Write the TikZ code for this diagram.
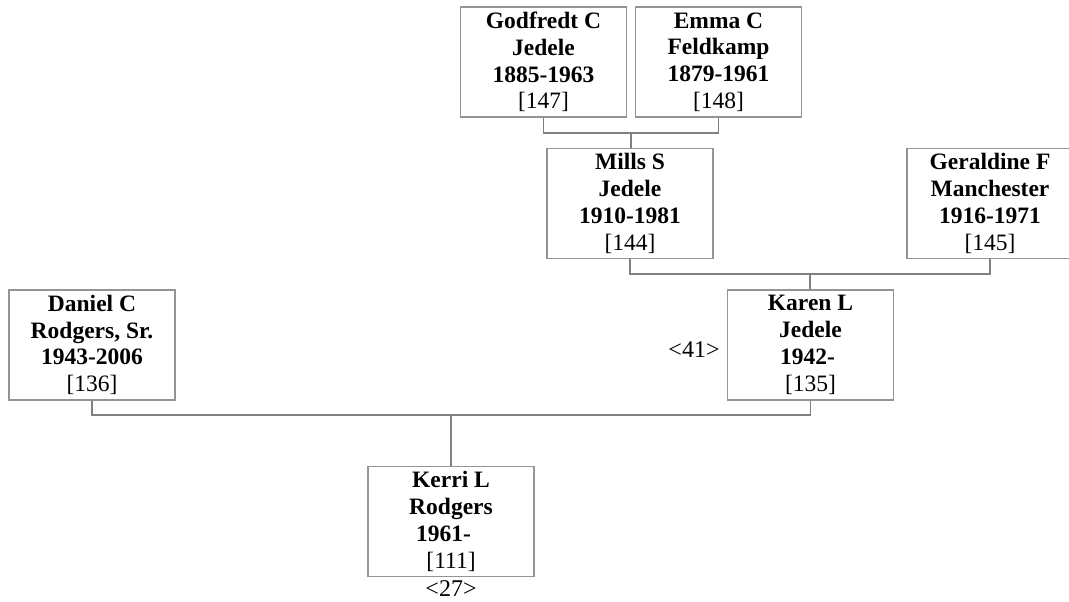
\documentclass[tikz,border=0pt]{standalone}
\usepackage{fontspec}
\setmainfont{Liberation Serif}
\begin{document}
\begin{tikzpicture}[x=1pt,y=-1pt,
  pbox/.style={draw=black!42, line width=1.2pt, rectangle, minimum width=166pt, minimum height=110pt,
    inner sep=0pt, align=center, font=\fontsize{23.5}{26.8}\selectfont},
  link/.style={draw=black!50, line width=1.2pt},
  note/.style={inner sep=0pt, font=\fontsize{24}{26.8}\selectfont}]
\useasboundingbox (0,0) rectangle (1069,602);
% generation 1
\node[pbox] (godfredt) at (543.5,62) {\textbf{Godfredt C}\\\textbf{Jedele}\\\textbf{1885-1963}\\{[147]}};
\node[pbox] (emma) at (718.5,62) {\textbf{Emma C}\\\textbf{Feldkamp}\\\textbf{1879-1961}\\{[148]}};
% generation 2
\node[pbox] (mills) at (630,203.5) {\textbf{Mills S}\\\textbf{Jedele}\\\textbf{1910-1981}\\{[144]}};
\node[pbox] (geraldine) at (990,203.5) {\textbf{Geraldine F}\\\textbf{Manchester}\\\textbf{1916-1971}\\{[145]}};
% generation 3
\node[pbox] (daniel) at (92,345) {\textbf{Daniel C}\\\textbf{Rodgers, Sr.}\\\textbf{1943-2006}\\{[136]}};
\node[pbox] (karen) at (810.5,345) {\textbf{Karen L}\\\textbf{Jedele}\\\textbf{1942-}\hbox to 6pt{}\\{[135]}};
\node[note] (n41) at (694,350) {<41>};
% generation 4
\node[pbox] (kerri) at (451,521.5) {\textbf{Kerri L}\\\textbf{Rodgers}\\\textbf{1961-}\hbox to 15pt{}\\{[111]}};
\node[note] (n27) at (451,589) {<27>};
% connectors
\coordinate (c1) at (631,133);
\coordinate (c2) at (810,274);
\coordinate (c3) at (451,415);
\draw[link] (godfredt.south) |- (c1) -| (emma.south);
\draw[link] (c1) -- (c1 |- mills.north);
\draw[link] (mills.south) |- (c2) -| (geraldine.south);
\draw[link] (c2) -- (c2 |- karen.north);
\draw[link] (daniel.south) |- (c3) -| (karen.south);
\draw[link] (c3) -- (kerri.north);
\end{tikzpicture}
\end{document}
